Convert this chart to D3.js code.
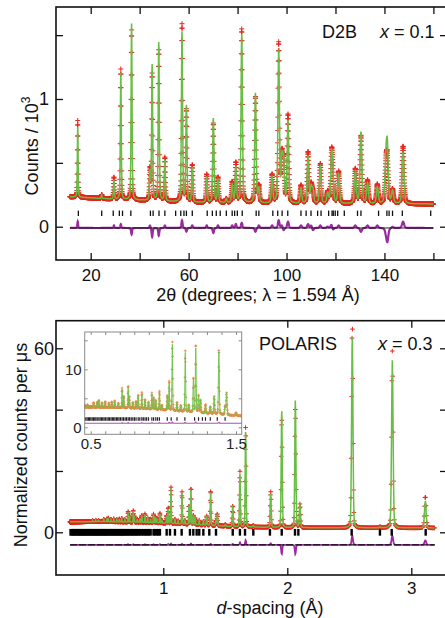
<!DOCTYPE html>
<html><head><meta charset="utf-8">
<script src="https://cdn.jsdelivr.net/npm/d3@7"></script>
<style>
body{margin:0;background:#fff}
svg{display:block}
text{font-family:"Liberation Sans",Arial,Helvetica,sans-serif;fill:#111}
</style>
</head><body>
<svg id="c" width="445" height="618"></svg>
<script>
// ---- D2B, x = 0.1 : reflections (2θ, deg), peak heights above background (10^3 counts), obs − calc misfit
const d2bPos    = [14.7, 24.5, 29.5, 32.3, 36.7, 44.2, 45.1, 47.8, 50.3, 57.3, 59.1, 61.5, 67.4, 70.1, 72.0, 75.4, 77.8, 79.3, 81.7, 87.3, 88.7, 94.1, 96.8, 98.1, 98.8, 100.6, 105.9, 108.8, 110.1, 110.8, 113.8, 116.8, 118.4, 118.9, 121.3, 128.1, 130.4, 133.1, 137.1, 140.6, 141.2, 143.3, 147.6];
const d2bAmp    = [0.55, 0.03, 0.15, 0.99, 1.38, 0.22, 1.06, 1.24, 0.32, 1.33, 0.75, 0.27, 0.20, 0.66, 0.175, 0.03, 0.14, 0.28, 1.32, 0.86, 0.11, 0.20, 1.19, 0.33, 0.33, 0.64, 0.12, 0.37, 0.12, 0.10, 0.29, 0.08, 0.33, 0.20, 0.23, 0.25, 0.56, 0.16, 0.13, 0.30, 0.40, 0.10, 0.40];
const d2bMisfit = [0.05, 0, 0.02, 0.03, -0.05, 0.02, -0.07, -0.06, 0.02, 0.06, -0.03, 0.02, 0.02, -0.04, 0.02, 0, 0.02, 0.03, 0.04, -0.03, 0.02, 0.02, 0.06, 0.02, -0.02, 0.05, 0.02, 0.03, 0.02, -0.02, 0.02, 0.01, 0.03, -0.02, 0.02, 0.02, -0.03, 0.02, 0.02, -0.03, -0.1, 0.01, 0.05];
const d2bBgAngle  = [11, 30, 60, 100, 160];
const d2bBgCounts = [0.235, 0.215, 0.19, 0.18, 0.178];
const d2bTicks = [14.96, 24.5, 29.2, 31.7, 33.0, 36.4, 44.4, 45.5, 47.9, 50.3, 54.7, 56.8, 58.1, 59.1, 61.5, 67.6, 69.7, 71.3, 72.9, 75.4, 77.8, 78.8, 79.9, 81.9, 87.6, 88.7, 94.4, 96.4, 98.2, 100.5, 105.9, 108.0, 110.0, 112.7, 114.1, 117.2, 118.6, 119.1, 119.9, 120.9, 123.6, 129.0, 130.4, 137.6, 141.0, 141.9, 143.3, 147.3, 158.9];
const d2bXTicks = [20, 40, 60, 80, 100, 120, 140, 160];
const d2bXLabels = [20, 60, 100, 140];
const d2bYTicks = [0, 0.5, 1, 1.5];
const d2bYLabels = [0, 1];

// ---- POLARIS, x = 0.3 : reflections (d, Å), heights above background (counts per µs), misfit
const polPos    = [0.43, 0.455, 0.478, 0.52, 0.545, 0.556, 0.578, 0.60, 0.625, 0.645, 0.665, 0.69, 0.716, 0.728, 0.758, 0.766, 0.79, 0.812, 0.827, 0.852, 0.874, 0.898, 0.921, 0.933, 0.948, 0.973, 0.99, 1.027, 1.04, 1.062, 1.094, 1.12, 1.151, 1.175, 1.207, 1.223, 1.242, 1.256, 1.29, 1.323, 1.35, 1.382, 1.425, 1.435, 1.50, 1.560, 1.618, 1.664, 1.726, 1.866, 1.955, 2.065, 2.102, 2.524, 2.747, 2.847, 3.113];
const polAmp    = [0.4, 0.5, 0.4, 0.8, 0.9, 1.2, 0.8, 1.0, 0.8, 1.0, 1.2, 0.8, 3.2, 2.0, 3.6, 2.0, 1.0, 1.2, 2.3, 2.6, 1.6, 1.2, 2.6, 2.0, 1.6, 3.0, 0.8, 2.5, 4.8, 11.5, 1.5, 1.0, 10.2, 1.2, 6.0, 11.5, 3.0, 2.2, 1.5, 1.2, 3.0, 11.0, 1.5, 3.8, 0.5, 6.5, 17.3, 31.2, 0.5, 11.2, 38.8, 42.0, 7.6, 63.3, 0.3, 54.7, 8.9];
const polMisfit = [0, 0, 0, 0, 0, 0, 0, 0, 0, 0, 0, 0, 0.2, 0, 0.2, 0, 0, 0, 0, 0.2, 0, 0, 0.2, 0, 0, 0.2, 0, 0, 0.3, 0.4, 0, 0, 0.3, 0, 0, 0.4, 0, 0, 0, 0, 0, 0.3, 0, 0, 0, 0.3, 0.8, 1.5, 0, 0.5, -3.0, -3.0, 0, 3.0, 0, 3.0, 1.5];
const polBgD      = [0.248, 0.5, 0.8, 1.0, 1.3, 1.6, 2.0, 3.2];
const polBgCounts = [3.4, 3.5, 3.3, 3.0, 2.4, 1.8, 1.5, 1.4];
const polTicks = [0.252, 0.262, 0.27, 0.281, 0.29, 0.298, 0.309, 0.318, 0.326, 0.335, 0.344, 0.353, 0.361, 0.37, 0.379, 0.388, 0.397, 0.405, 0.414, 0.423, 0.431, 0.44, 0.449, 0.457, 0.466, 0.475, 0.484, 0.492, 0.501, 0.51, 0.519, 0.528, 0.536, 0.545, 0.556, 0.565, 0.574, 0.583, 0.592, 0.601, 0.612, 0.621, 0.63, 0.64, 0.649, 0.658, 0.667, 0.677, 0.686, 0.695, 0.705, 0.716, 0.726, 0.737, 0.747, 0.758, 0.768, 0.779, 0.79, 0.801, 0.812, 0.827, 0.838, 0.852, 0.862, 0.874, 0.885, 0.898, 0.921, 0.933, 0.948, 0.96, 0.973, 1.027, 1.054, 1.094, 1.148, 1.215, 1.242, 1.269, 1.290, 1.323, 1.371, 1.425, 1.560, 1.618, 1.659, 1.726, 1.860, 1.955, 2.062, 2.089, 2.519, 2.747, 2.842, 3.116];
const polXTicks = [1, 2, 3];
const polYTicks = [0, 20, 40, 60];
const polYLabels = [0, 60];
const insetXTicks = [0.5, 0.6, 0.7, 0.8, 0.9, 1.0, 1.1, 1.2, 1.3, 1.4, 1.5];
const insetXLabels = [0.5, 1.5];
const insetYTicks = [0, 5, 10, 15];
const insetYLabels = [0, 10];

const RED = "#e9261d", GREEN = "#68bd45", PURPLE = "#9a2aa0";

const svg = d3.select("#c");

// pseudo-Voigt line shape with unit height
function pv(dx, w, eta) {
  const t = dx * dx / (w * w);
  return eta / (1 + 4 * t) + (1 - eta) * Math.exp(-4 * Math.LN2 * t);
}
// calculated pattern, observed pattern and their difference on a grid
function profile(grid, pos, amp, mis, fwhm, eta, bgX, bgY) {
  const bg = d3.scaleLinear().domain(bgX).range(bgY);
  return grid.map(x => {
    let c = bg(x), r = 0;
    for (let i = 0; i < pos.length; i++) {
      const w = fwhm(pos[i]), dx = x - pos[i];
      if (Math.abs(dx) > 40 * w) continue;
      const p = pv(dx, w, eta);
      c += amp[i] * p; r += mis[i] * p;
    }
    return {x, calc: c, obs: c + r, diff: r};
  });
}
function crosses(data, xs, ys, s) {
  let p = "";
  for (const d of data) {
    const x = xs(d.x), y = ys(d.obs);
    p += `M${(x - s).toFixed(2)},${y.toFixed(2)}h${2 * s}M${x.toFixed(2)},${(y - s).toFixed(2)}v${2 * s}`;
  }
  return p;
}
function frameAxes(g, xs, ys, box, o) {
  const {x0, x1, y0, y1} = box;
  const fmtX = v => o.xLabels.includes(v) ? o.xFmt(v) : "";
  const fmtY = v => o.yLabels.includes(v) ? String(v) : "";
  const bottom = g.append("g").attr("transform", `translate(0,${y1})`)
    .call(d3.axisBottom(xs).tickValues(o.xTicks).tickSize(-o.tl).tickPadding(o.xPad).tickFormat(fmtX));
  const top = g.append("g").attr("transform", `translate(0,${y0})`)
    .call(d3.axisTop(xs).tickValues(o.xTicks).tickSize(-o.tl).tickFormat(""));
  const left = g.append("g").attr("transform", `translate(${x0},0)`)
    .call(d3.axisLeft(ys).tickValues(o.yTicks).tickSize(-o.tl).tickPadding(o.yPad).tickFormat(fmtY));
  const right = g.append("g").attr("transform", `translate(${x1},0)`)
    .call(d3.axisRight(ys).tickValues(o.yTicks).tickSize(-o.tl).tickFormat(""));
  [bottom, top, left, right].forEach(a => {
    a.select(".domain").remove();
    a.selectAll("line").attr("stroke", o.col).attr("stroke-width", o.sw);
    a.selectAll("text").attr("font-size", o.fs).attr("font-family", null).style("fill", o.tcol);
  });
  left.selectAll("text").attr("font-size", o.yfs || o.fs);
  g.append("rect").attr("x", x0).attr("y", y0).attr("width", x1 - x0).attr("height", y1 - y0)
    .attr("fill", "none").attr("stroke", o.col).attr("stroke-width", o.fw);
}
function clip(id, b) {
  svg.append("clipPath").attr("id", id).append("rect")
    .attr("x", b.x0).attr("y", b.y0).attr("width", b.x1 - b.x0).attr("height", b.y1 - b.y0);
}

// ================= top panel: D2B =================
const boxT = {x0: 56, x1: 447, y0: 7, y1: 260};
const xT = d3.scaleLinear().domain([20, 160]).range([90.7, 433.4]);
const yT = d3.scaleLinear().domain([0, 1]).range([226.7, 99]);
clip("clipT", boxT);
const gridT = d3.range(11.5, 160.001, 0.05);
const dataT = profile(gridT, d2bPos, d2bAmp, d2bMisfit, t => 0.3 + 0.0045 * t, 0.35, d2bBgAngle, d2bBgCounts);
const pT = svg.append("g").attr("clip-path", "url(#clipT)");
const diffOffT = -0.01;
pT.append("path").attr("d", d3.line().x(d => xT(d.x)).y(d => yT(d.diff + diffOffT))(dataT))
  .attr("fill", "none").attr("stroke", PURPLE).attr("stroke-width", 2.2);
pT.append("line").attr("x1", xT(11.5)).attr("x2", xT(160)).attr("y1", yT(diffOffT)).attr("y2", yT(diffOffT))
  .attr("stroke", "#111").attr("stroke-width", 0.9);
pT.append("g").selectAll("line").data(d2bTicks).join("line")
  .attr("x1", d => xT(d)).attr("x2", d => xT(d)).attr("y1", yT(0.126)).attr("y2", yT(0.084))
  .attr("stroke", "#111").attr("stroke-width", 1.3);
pT.append("path").attr("d", crosses(dataT, xT, yT, 2.5)).attr("fill", "none").attr("stroke", RED).attr("stroke-width", 1);
pT.append("path").attr("d", d3.line().x(d => xT(d.x)).y(d => yT(d.calc))(dataT))
  .attr("fill", "none").attr("stroke", GREEN).attr("stroke-width", 1.5);
frameAxes(svg.append("g"), xT, yT, boxT, {
  xTicks: d2bXTicks, xLabels: d2bXLabels, xFmt: String, yTicks: d2bYTicks, yLabels: d2bYLabels,
  tl: 7, xPad: 9, yPad: 7, col: "#111", tcol: "#111", sw: 1.3, fw: 1.6, fs: 17, yfs: 18
});
svg.append("text").attr("x", 258).attr("y", 301).attr("text-anchor", "middle").attr("font-size", 18)
  .text("2θ (degrees; λ = 1.594 Å)");
const ylT = svg.append("text").attr("transform", "translate(38,146) rotate(-90)").attr("text-anchor", "middle").attr("font-size", 18);
ylT.append("tspan").text("Counts / 10");
ylT.append("tspan").attr("dy", -8).attr("font-size", 12).text("3");
svg.append("text").attr("x", 322).attr("y", 38).attr("font-size", 18).text("D2B");
const xlT = svg.append("text").attr("x", 380).attr("y", 38).attr("font-size", 18);
xlT.append("tspan").attr("font-style", "italic").text("x");
xlT.append("tspan").text(" = 0.1");

// ================= bottom panel: POLARIS =================
const boxB = {x0: 56, x1: 447, y0: 320.7, y1: 575};
const xB = d3.scaleLinear().domain([1, 3]).range([163.3, 411.3]);
const yB = d3.scaleLinear().domain([0, 60]).range([532.3, 348.3]);
clip("clipB", boxB);
const gridB = [];
for (let d = 0.248; d <= 3.19; d *= 1.0012) gridB.push(d);
const fwB = d => 0.005 * d;
const dataB = profile(gridB, polPos, polAmp, polMisfit, fwB, 0.2, polBgD, polBgCounts);
const pB = svg.append("g").attr("clip-path", "url(#clipB)");
const diffOffB = -4.1;
pB.append("path").attr("d", d3.line().x(d => xB(d.x)).y(d => yB(d.diff + diffOffB))(dataB))
  .attr("fill", "none").attr("stroke", PURPLE).attr("stroke-width", 1.8);
pB.append("line").attr("x1", xB(0.248)).attr("x2", xB(3.19)).attr("y1", yB(diffOffB)).attr("y2", yB(diffOffB))
  .attr("stroke", "#111").attr("stroke-width", 1.3).attr("stroke-dasharray", "7,2");
pB.append("g").selectAll("line").data(polTicks).join("line")
  .attr("x1", d => xB(d)).attr("x2", d => xB(d)).attr("y1", yB(1.1)).attr("y2", yB(-1.1))
  .attr("stroke", "#000").attr("stroke-width", 2.4);
pB.append("path").attr("d", crosses(dataB, xB, yB, 2.3)).attr("fill", "none").attr("stroke", RED).attr("stroke-width", 1);
pB.append("path").attr("d", d3.line().x(d => xB(d.x)).y(d => yB(d.calc))(dataB))
  .attr("fill", "none").attr("stroke", GREEN).attr("stroke-width", 1.5);
frameAxes(svg.append("g"), xB, yB, boxB, {
  xTicks: polXTicks, xLabels: polXTicks, xFmt: String, yTicks: polYTicks, yLabels: polYLabels,
  tl: 7, xPad: 7, yPad: 2, col: "#111", tcol: "#111", sw: 1.3, fw: 1.6, fs: 17, yfs: 18
});
const xlB = svg.append("text").attr("x", 270).attr("y", 614).attr("text-anchor", "middle").attr("font-size", 18);
xlB.append("tspan").attr("font-style", "italic").text("d");
xlB.append("tspan").text("-spacing (Å)");
svg.append("text").attr("transform", "translate(27,445) rotate(-90)").attr("text-anchor", "middle").attr("font-size", 18)
  .text("Normalized counts per μs");
svg.append("text").attr("x", 259).attr("y", 350).attr("font-size", 18).text("POLARIS");
const xlB2 = svg.append("text").attr("x", 378).attr("y", 350).attr("font-size", 18);
xlB2.append("tspan").attr("font-style", "italic").text("x");
xlB2.append("tspan").text(" = 0.3");

// ---- inset: low d-spacing region, same POLARIS data
const boxI = {x0: 84.7, x1: 241.7, y0: 332, y1: 434.3};
const xI = d3.scaleLinear().domain([0.5, 1.5]).range([90.7, 236]);
const yI = d3.scaleLinear().domain([0, 10]).range([427.3, 369.3]);
svg.append("rect").attr("x", boxI.x0).attr("y", boxI.y0).attr("width", boxI.x1 - boxI.x0).attr("height", boxI.y1 - boxI.y0)
  .attr("fill", "#fff");
clip("clipI", boxI);
const dataI = dataB.filter(d => d.x > 0.45 && d.x < 1.55);
const pI = svg.append("g").attr("clip-path", "url(#clipI)");
pI.append("path").attr("d", d3.line().x(d => xI(d.x)).y(d => yI(d.diff * 0.5 + 0.7))(dataI))
  .attr("fill", "none").attr("stroke", "#b050b8").attr("stroke-width", 1.2);
pI.append("g").selectAll("line").data(polTicks.filter(d => d > 0.45 && d < 1.55)).join("line")
  .attr("x1", d => xI(d)).attr("x2", d => xI(d)).attr("y1", yI(1.75)).attr("y2", yI(1.15))
  .attr("stroke", "#222").attr("stroke-width", 1.2);
pI.append("path").attr("d", crosses(dataI, xI, yI, 1.3)).attr("fill", "none").attr("stroke", "#ec8a4a").attr("stroke-width", 0.9);
pI.append("path").attr("d", d3.line().x(d => xI(d.x)).y(d => yI(d.calc))(dataI))
  .attr("fill", "none").attr("stroke", "#72c24e").attr("stroke-width", 1);
frameAxes(svg.append("g"), xI, yI, boxI, {
  xTicks: insetXTicks, xLabels: insetXLabels, xFmt: d3.format(".1f"), yTicks: insetYTicks, yLabels: insetYLabels,
  tl: 3, xPad: 4, yPad: 3, col: "#8a8a8a", tcol: "#222", sw: 1, fw: 1, fs: 15
});
</script>
</body></html>
